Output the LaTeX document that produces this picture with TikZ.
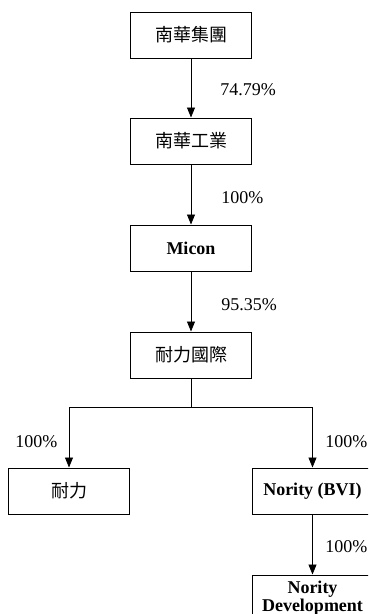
\documentclass[tikz,border=0pt]{standalone}
\usepackage{fontspec}
\setmainfont{Liberation Serif}
\newfontfamily\cjk{Noto Sans CJK TC}
\usetikzlibrary{arrows.meta}
\tikzset{%
  every firm/.style={
    draw,
    line width=1pt,
    minimum width=121pt,
    minimum height=46pt,
    inner sep=0pt,
    align=center,
    font=\fontsize{18}{18}\selectfont
  },
  share label/.style={
    anchor=west,
    inner sep=0pt,
    font=\fontsize{18}{20}\selectfont
  },
}

\begin{document}
\begin{tikzpicture}[> = {Stealth[length=10pt,width=8pt,inset=0pt]}, x=1pt, y=-1pt, line width=0.8pt]
\useasboundingbox (0,0) rectangle (368,614);
\clip (0,0) rectangle (368,614);
% companies
\node[every firm] (group) at (191,35) {\cjk 南華集團};
\node[every firm] (industry) at (191,141) {\cjk 南華工業};
\node[every firm] (micon) at (191,248) {\textbf{Micon}};
\node[every firm] (intl) at (191,355) {\cjk 耐力國際};
\node[every firm] (nai) at (69,491) {\cjk 耐力};
\node[every firm] (bvi) at (312.5,491) {\textbf{Nority (BVI)}};
\node[every firm] (dev) at (312.5,598) {\textbf{Nority}\\\textbf{Development}};
\coordinate (split) at (191,407);
% holdings
\draw[->] (group) -- (industry);
\draw[->] (industry) -- (micon);
\draw[->] (micon) -- (intl);
\draw (intl) -- (split);
\draw[->] (split) -| (nai);
\draw[->] (split) -| (bvi);
\draw[->] (bvi) -- (dev);
% shares
\node[share label] (s_group) at (220,90) {74.79\%};
\node[share label] (s_industry) at (221,198) {100\%};
\node[share label] (s_micon) at (221,305) {95.35\%};
\node[share label] (s_nai) at (15,442) {100\%};
\node[share label] (s_bvi) at (325,442) {100\%};
\node[share label] (s_dev) at (325,547) {100\%};
\end{tikzpicture}
\end{document}
